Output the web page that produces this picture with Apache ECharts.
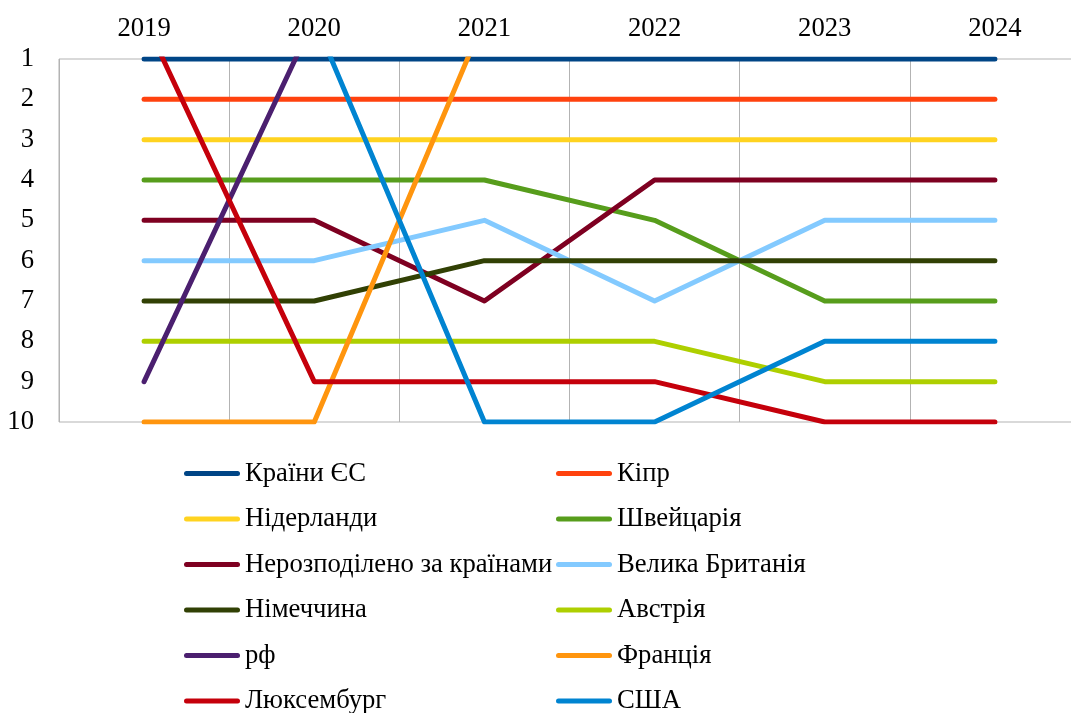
<!DOCTYPE html>
<html>
<head>
<meta charset="utf-8">
<script src="https://cdn.jsdelivr.net/npm/echarts@6/dist/echarts.min.js"></script>
<style>
html,body{margin:0;padding:0;background:#fff;}
#chart{width:1071px;height:713px;}
</style>
</head>
<body>
<div id="chart"></div>
<script>
// Categories (years)
const years = ['2019', '2020', '2021', '2022', '2023', '2024'];
// Y-axis tick labels (ranks)
const rankTicks = [1, 2, 3, 4, 5, 6, 7, 8, 9, 10];

// Series names (legend order)
const seriesNames = [
  'Країни ЄС', 'Кіпр', 'Нідерланди', 'Швейцарія',
  'Нерозподілено за країнами', 'Велика Британія', 'Німеччина', 'Австрія',
  'рф', 'Франція', 'Люксембург', 'США'
];

// Ranks per year (0 = outside top-10, drawn off the plot and clipped)
const euCountries   = [1, 1, 1, 1, 1, 1];
const cyprus        = [2, 2, 2, 2, 2, 2];
const netherlands   = [3, 3, 3, 3, 3, 3];
const switzerland   = [4, 4, 4, 5, 7, 7];
const unallocated   = [5, 5, 7, 4, 4, 4];
const unitedKingdom = [6, 6, 5, 7, 5, 5];
const germany       = [7, 7, 6, 6, 6, 6];
const austria       = [8, 8, 8, 8, 9, 9];
const russia        = [9, 0, 0, 0, 0, 0];
const france        = [10, 10, 0, 0, 0, 0];
const luxembourg    = [0, 9, 9, 9, 10, 10];
const usa           = [0, 0, 10, 10, 8, 8];

const seriesValues = [euCountries, cyprus, netherlands, switzerland, unallocated,
  unitedKingdom, germany, austria, russia, france, luxembourg, usa];

const colors = ['#004586', '#ff420e', '#ffd320', '#579d1c', '#7e0021', '#83caff',
  '#314004', '#aecf00', '#4b1f6f', '#ff950e', '#c5000b', '#0084d1'];

const FONT = '"Liberation Serif", "Times New Roman", serif';
const FS = 26.67;

const chart = echarts.init(document.getElementById('chart'), null, {renderer: 'canvas'});

const series = seriesNames.map((name, i) => ({
  name: name,
  type: 'line',
  data: seriesValues[i],
  symbol: 'none',
  showSymbol: false,
  smooth: false,
  clip: true,
  color: colors[i],
  lineStyle: {width: 5, color: colors[i], cap: 'round', join: 'round'},
  emphasis: {disabled: true}
}));

const capsule = 'path://M2.5,0 L53.5,0 A2.5,2.5 0 0 1 53.5,5 L2.5,5 A2.5,2.5 0 0 1 2.5,0 Z';

const legendCommon = {
  orient: 'vertical',
  top: 460,
  height: 320,
  padding: 0,
  icon: capsule,
  itemWidth: 56,
  itemHeight: 5,
  itemGap: 18.5,
  selectedMode: false,
  textStyle: {fontFamily: FONT, fontSize: FS, color: '#000', lineHeight: FS}
};

const leftNames = seriesNames.filter((_, i) => i % 2 === 0);
const rightNames = seriesNames.filter((_, i) => i % 2 === 1);

chart.setOption({
  animation: false,
  color: colors,
  textStyle: {fontFamily: FONT},
  grid: {
    left: 59, right: -9, top: 59, bottom: 291,
    containLabel: false,
    outerBoundsMode: 'none',
    show: true, borderColor: '#b3b3b3', borderWidth: 1, backgroundColor: 'transparent'
  },
  legend: [
    Object.assign({}, legendCommon, {left: 184, data: leftNames}),
    Object.assign({}, legendCommon, {left: 556, data: rightNames})
  ],
  xAxis: {
    type: 'category',
    position: 'top',
    data: years,
    boundaryGap: true,
    axisLine: {show: false},
    axisTick: {show: false},
    splitLine: {show: true, lineStyle: {color: '#b3b3b3', width: 1}},
    axisLabel: {fontFamily: FONT, fontSize: FS, color: '#000', margin: 17}
  },
  yAxis: {
    type: 'value',
    inverse: true,
    min: rankTicks[0],
    max: rankTicks[rankTicks.length - 1],
    interval: 1,
    axisLine: {show: false},
    axisTick: {show: false},
    splitLine: {show: false},
    axisLabel: {fontFamily: FONT, fontSize: FS, color: '#000', margin: 25}
  },
  series: series
});
</script>
</body>
</html>
